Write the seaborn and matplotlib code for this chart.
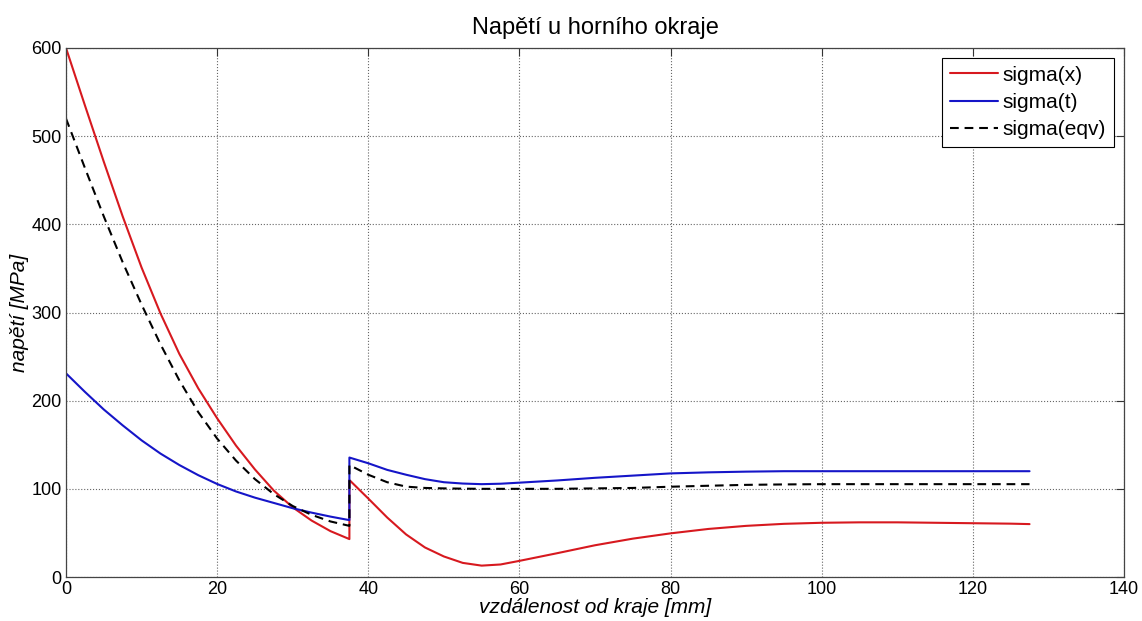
import matplotlib
matplotlib.use("Agg")
import matplotlib.pyplot as plt
import seaborn as sns
import pandas as pd

# distance from edge [mm]; 37.5 appears twice (discontinuity)
x_mm = [0, 2.5, 5, 7.5, 10, 12.5, 15, 17.5, 20, 22.5, 25, 27.5, 30, 32.5, 35, 37.5,
        37.5, 40, 42.5, 45, 47.5, 50, 52.5, 55, 57.5, 60, 65, 70, 75, 80, 85, 90, 95,
        100, 105, 110, 115, 120, 125, 127.5]

sigma_x = [600, 535, 471, 409, 351, 299, 253, 214, 180, 149, 122, 98, 79, 64, 52, 43,
           110, 89, 67.5, 48.3, 33.5, 23.3, 16, 12.9, 14.2, 18.3, 27, 36, 43.5, 49.5, 54.5,
           58, 60.3, 61.5, 62, 62, 61.5, 61, 60.5, 60]

sigma_t = [231, 210, 190, 172, 155, 140, 127, 115.5, 105.5, 97, 90, 84, 78, 73, 68.5, 64.5,
           135.5, 129, 121.5, 116, 111, 107.5, 106, 105.3, 105.8, 107, 109.5, 112.5, 115, 117.5,
           118.7, 119.5, 120, 120, 120, 120, 120, 120, 120, 120]

sigma_eqv = [520, 464, 409, 357, 309, 264, 223, 187, 157, 132, 111, 94, 80.5, 70.5, 63, 58,
             127, 116, 107.5, 102.5, 101, 100.5, 100.2, 100, 100, 100, 100, 100.5, 101, 102.4,
             103.5, 104.5, 105, 105.3, 105.3, 105.3, 105.3, 105.3, 105.3, 105.3]

x_ticks = [0, 20, 40, 60, 80, 100, 120, 140]
y_ticks = [0, 100, 200, 300, 400, 500, 600]

df = pd.DataFrame({"x": x_mm, "sx": sigma_x, "st": sigma_t, "se": sigma_eqv})

sns.set_style("white")
plt.rcParams["font.family"] = ["Liberation Sans", "DejaVu Sans"]
plt.rcParams["text.color"] = "black"
plt.rcParams["axes.labelcolor"] = "black"

fig = plt.figure(figsize=(11.42, 6.21), dpi=100)
ax = fig.add_axes([66 / 1142, 44 / 621, (1124 - 66) / 1142, (577 - 48) / 621])

sns.lineplot(data=df, x="x", y="sx", ax=ax, color="#d7191f", lw=1.5,
             sort=False, estimator=None, label="sigma(x)")
sns.lineplot(data=df, x="x", y="st", ax=ax, color="#1515c8", lw=1.5,
             sort=False, estimator=None, label="sigma(t)")
sns.lineplot(data=df, x="x", y="se", ax=ax, color="black", lw=1.5,
             sort=False, estimator=None, label="sigma(eqv)", dashes=False)
ax.lines[2].set_linestyle((0, (4.2, 2.8)))

ax.set_xlim(0, 140)
ax.set_ylim(0, 600)
ax.set_xticks(x_ticks)
ax.set_yticks(y_ticks)
ax.tick_params(direction="in", length=6, width=0.8, top=True, right=True,
               labelsize=13, colors="#333333", labelcolor="black", pad=3)
ax.grid(True, linestyle=":", color="#666666", lw=0.8)
for s in ax.spines.values():
    s.set_visible(True)
    s.set_color("#444444")
    s.set_linewidth(0.9)

ax.set_xlabel("vzdálenost od kraje [mm]", fontsize=15, style="italic", labelpad=0)
ax.set_ylabel("napětí [MPa]", fontsize=15, style="italic", labelpad=1.5)
ax.set_title("Napětí u horního okraje", fontsize=17, pad=10, color="black")

leg = ax.legend(loc="upper right", fontsize=15, frameon=True, fancybox=False,
                edgecolor="black", framealpha=1, borderaxespad=0.5,
                handlelength=2.3, handletextpad=0.25, labelspacing=0.4,
                borderpad=0.35)
leg.get_frame().set_linewidth(0.8)

fig.savefig("out.png", dpi=100)
